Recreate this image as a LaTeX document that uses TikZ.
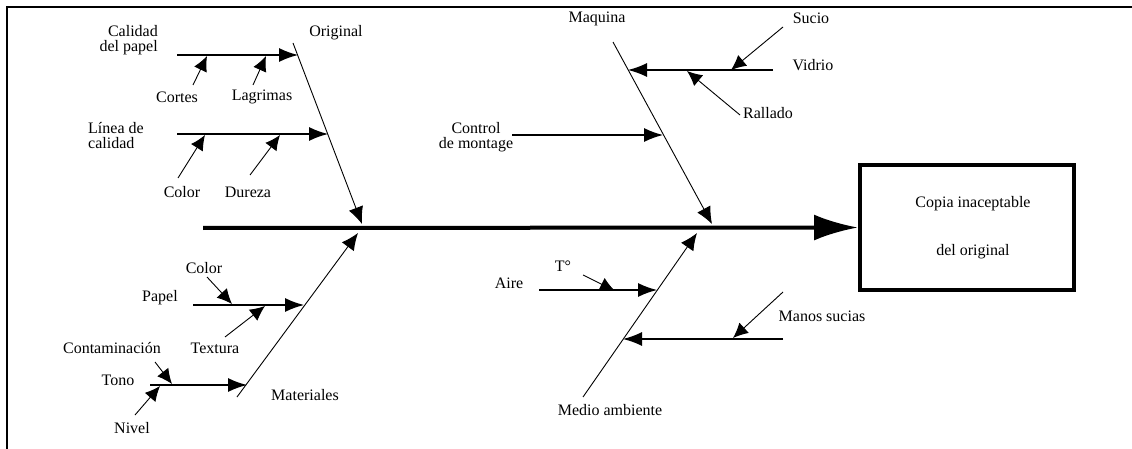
\documentclass[tikz,border=0pt]{standalone}
\usepackage{fontspec}
\setmainfont{Liberation Serif}
\usetikzlibrary{arrows.meta, positioning}
\tikzset{
  spine/.style={line width=4pt, -{Latex[length=44pt, width=26pt]}},
  bone/.style={line width=0.9pt, -{Latex[length=17pt, width=15pt]}},
  branch/.style={line width=1.3pt, -{Latex[length=19pt, width=14pt]}},
  cause/.style={line width=0.9pt, -{Latex[length=15pt, width=14pt]}},
  lbl/.style={font=\fontsize{16}{15}\selectfont, inner sep=0pt, align=center},
  effect/.style={draw, line width=4pt, minimum width=214pt, minimum height=125pt, align=center, font=\fontsize{16}{14}\selectfont}
}
\begin{document}
\begin{tikzpicture}[x=1pt,y=-1pt]
    \useasboundingbox (0,0) rectangle (1132,449);
    % frame
    \coordinate (fb) at (7,449);
    \coordinate (fc) at (7,7);
    \coordinate (fr) at (1132,7);
    \draw[line width=1.5pt] (fb) -- (fc) -- (fr);

    % effect and spine
    \node[effect] (effect) at (967,227.5) {\hspace{12pt}Copia inaceptable\\[32pt]\hspace{12pt}del original};
    \coordinate (tail) at (203,228);
    \draw[spine] (tail) -- (effect.west);

    % main bones
    \foreach \nm/\sx/\sy/\ex/\ey in {orig/293/43/362/224, mat/237/397/358/233, maq/613/42/712/224, med/583/397/697/233}{
        \coordinate (\nm S) at (\sx,\sy);
        \coordinate (\nm E) at (\ex,\ey);
        \draw[bone] (\nm S) -- (\nm E);
    }

    % branches onto the bones
    \foreach \nm/\sx/\sy/\ex/\ey in {cal/177/55/298/55, lin/177/134/328/134, pap/193/305/304/305, ton/150/385/247/385,
                                     vid/773/70/628/70, con/512/135/663/135, air/539/290/657/290, man/783/339/623/339}{
        \coordinate (\nm S) at (\sx,\sy);
        \coordinate (\nm E) at (\ex,\ey);
        \draw[branch] (\nm S) -- (\nm E);
    }

    % small causes
    \foreach \nm/\sx/\sy/\ex/\ey in {cor/193/85/207/56, lag/253/85/266/56, col/178/178/205/135, dur/250/175/280/135,
                                     colb/207/277/232/304, tex/225/337/265/306, cnt/155/362/172/384, niv/135/415/160/386,
                                     suc/783/27/731/70, ral/740/115/687/71, tem/583/275/615/291, mns/783/292/733/338}{
        \coordinate (\nm S) at (\sx,\sy);
        \coordinate (\nm E) at (\ex,\ey);
        \draw[cause] (\nm S) -- (\nm E);
    }

    % labels
    \foreach \nm/\x/\y/\txt in {original/336/33/Original, cortes/177/97/Cortes, lagrimas/262/97/Lagrimas,
                                color/182/192/Color, dureza/248/192/Dureza, materiales/305/395/Materiales,
                                papel/160/298/Papel, colorb/204/268/Color, textura/215/348/Textura,
                                tono/118/380/Tono, contam/112/348/Contaminación, nivel/132/428/Nivel,
                                maquina/597/19/Maquina, sucio/811/18/Sucio, vidrio/813/65/Vidrio,
                                rallado/768/113/Rallado, aire/509/283/Aire, temp/563/266/T°,
                                manos/822/316/Manos sucias, medio/610/410/Medio ambiente}{
        \node[lbl] (\nm) at (\x,\y) {\txt};
    }
    \node[lbl, align=right, anchor=east] (calidad) at (158,40) {Calidad\\del papel};
    \node[lbl, align=left, anchor=west] (linea) at (88,136) {Línea de\\calidad};
    \node[lbl] (control) at (476,137) {Control\\de montage};
\end{tikzpicture}
\end{document}
